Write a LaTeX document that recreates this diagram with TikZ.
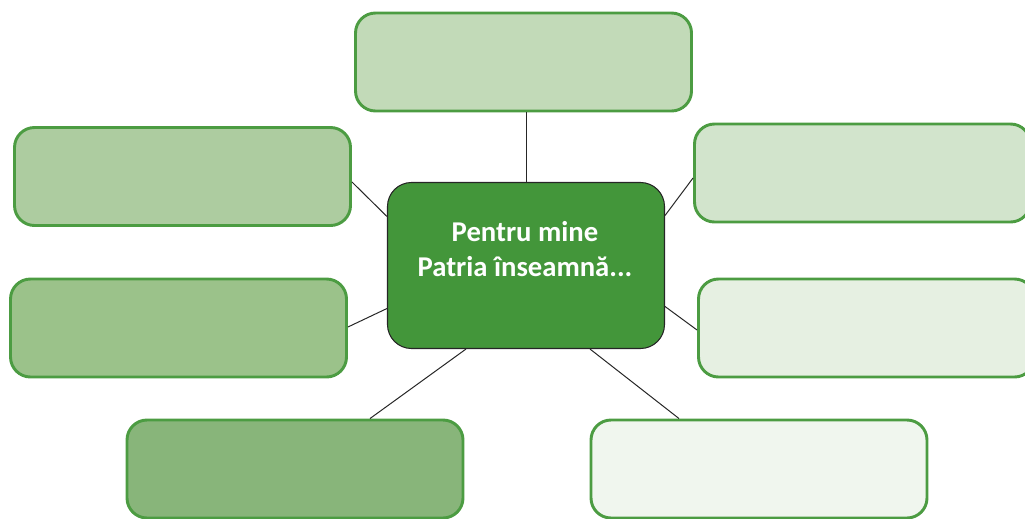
\documentclass[tikz,border=0pt]{standalone}
\usepackage{fontspec}
\setmainfont{Carlito}
\usepackage{tikz}
\usetikzlibrary{calc}

\definecolor{hubgreen}{HTML}{43963A}
\definecolor{edgegreen}{HTML}{4C9C42}
\definecolor{fillA}{HTML}{C2DAB8}
\definecolor{fillB}{HTML}{ADCCA0}
\definecolor{fillC}{HTML}{D2E4CC}
\definecolor{fillD}{HTML}{9BC28A}
\definecolor{fillE}{HTML}{E6F0E2}
\definecolor{fillF}{HTML}{88B57A}
\definecolor{fillG}{HTML}{F0F6EE}

\begin{document}
\begin{tikzpicture}[x=0.75pt,y=-0.75pt,
  leaf/.style={draw=edgegreen,line width=2.2pt,rounded corners=15pt,
    minimum width=252pt,minimum height=73.5pt,inner sep=0pt},
  hub/.style={draw=black!85,line width=0.8pt,fill=hubgreen,rounded corners=18pt,
    minimum width=207.75pt,minimum height=124.5pt,inner sep=0pt},
  spoke/.style={draw=black!85,line width=0.75pt}]
\useasboundingbox (0,0) rectangle (1025,518);
\clip (0,0) rectangle (1025,518);
% centre
\node[hub] (hub) at (526,265.5) {};
\node[text=white,font=\bfseries\fontsize{21.5}{26.25}\selectfont,align=center] (title) at (525,249) {Pentru mine\\Patria înseamnă...};
% boxes round it
\node[leaf,fill=fillA] (top) at (523.5,62) {};
\node[leaf,fill=fillB] (lu) at (182.5,176.5) {};
\node[leaf,fill=fillC] (ru) at (862.5,173) {};
\node[leaf,fill=fillD] (ll) at (178.5,328) {};
\node[leaf,fill=fillE] (rl) at (866.5,328) {};
\node[leaf,fill=fillF] (bl) at (295,469) {};
\node[leaf,fill=fillG] (br) at (759,469) {};
% spokes
\draw[spoke] (hub.north) -- (hub.north |- top.south);
\draw[spoke] ($(lu.east)+(0,5.5)$) -- ($(hub.west)+(0,-49)$);
\draw[spoke] ($(ru.west)+(0,5)$) -- ($(hub.east)+(0,-50)$);
\draw[spoke] ($(ll.east)+(0,-1)$) -- ($(hub.west)+(0,43)$);
\draw[spoke] ($(rl.west)+(0,2)$) -- ($(hub.east)+(0,41)$);
\draw[spoke] ($(bl.north)+(75,0)$) -- ($(hub.south)+(-60,0)$);
\draw[spoke] ($(br.north)+(-80,0)$) -- ($(hub.south)+(64,0)$);
\end{tikzpicture}
\end{document}
